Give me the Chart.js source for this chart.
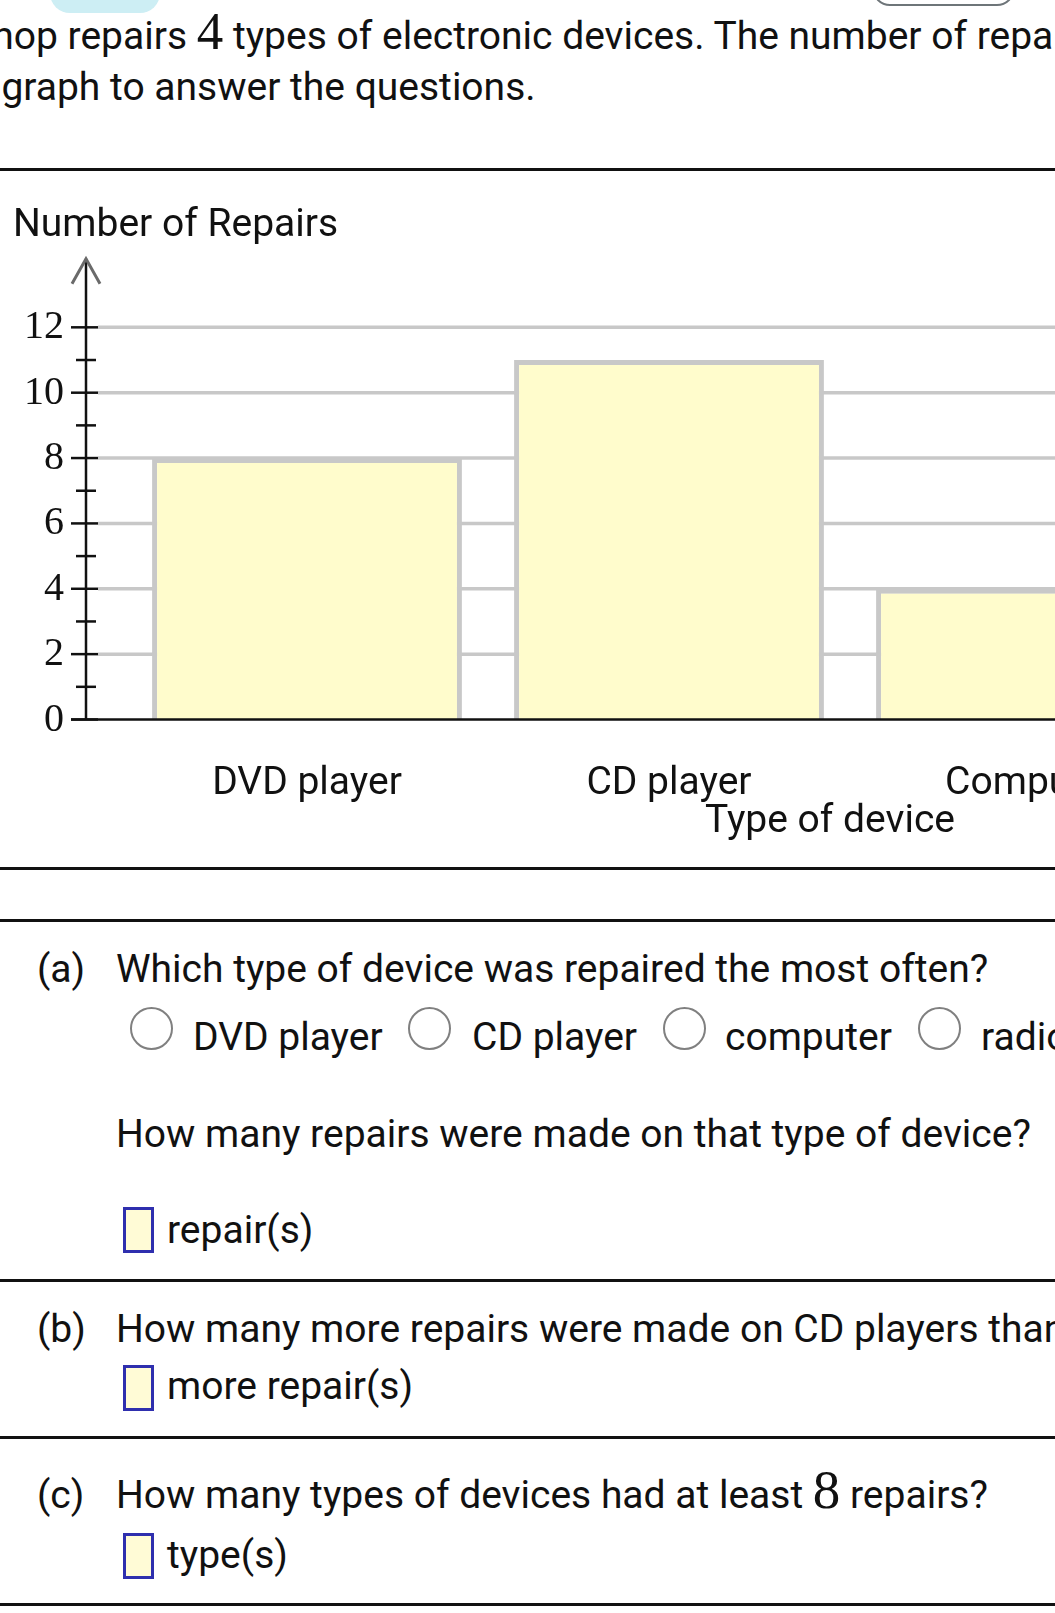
<!DOCTYPE html>
<html>
<head>
<meta charset="utf-8">
<script src="https://cdn.jsdelivr.net/npm/chart.js@4.4.1/dist/chart.umd.min.js"></script>
<style>
    html, body { margin: 0; padding: 0; }
    body {
        width: 1055px;
        height: 1613px;
        overflow: hidden;
        position: relative;
        background: #fff;
        font-family: Roboto, "Noto Sans", sans-serif;
        font-size: 39px;
        color: #111;
    }
    .t { position: absolute; white-space: nowrap; line-height: normal; }
    .m { font-family: "Liberation Serif", serif; }
    .rule { position: absolute; left: 0; width: 1055px; height: 3px; background: #111; }
    .radio {
        position: absolute; width: 39px; height: 39px; border-radius: 50%;
        border: 2.5px solid #808080; background: #fff;
    }
    .box {
        position: absolute; width: 25px; height: 40px;
        border: 3px solid #2f2fae; background: #fffbd6;
    }
    #chartWrap { position: absolute; left: 0; top: 180px; width: 1600px; height: 680px; }
</style>
</head>
<body>
<div style="position:absolute;left:50px;top:-20px;width:110px;height:33px;border-radius:0 0 20px 20px;background:#cdeef4;"></div>
<div style="position:absolute;left:872px;top:-30px;width:139px;height:32px;border-radius:18px;border:2px solid #6e7579;"></div>

<div class="t" id="head1"><span>A repair s</span>hop <span id="head1a">repairs</span> <span class="m" style="font-size:53px">4</span> types of electronic devices. The number of repairs for each type is shown</div>
<div class="t" id="head2"><span>Use the bar </span><span id="head2a">graph</span> to answer the questions.</div>

<div class="rule" style="top:168px"></div>
<div id="chartWrap"><canvas id="repairChart" width="1600" height="680"></canvas></div>
<div class="rule" style="top:867px"></div>
<div class="rule" style="top:919px"></div>

<div class="t" data-x="37" data-b="982">(a)</div>
<div class="t" data-x="116" data-b="982">Which type of device was repaired the most often?</div>
<div class="radio" style="left:130px;top:1007px"></div>
<div class="t" data-x="193" data-b="1050">DVD player</div>
<div class="radio" style="left:408px;top:1007px"></div>
<div class="t" data-x="472" data-b="1050">CD player</div>
<div class="radio" style="left:663px;top:1007px"></div>
<div class="t" data-x="725" data-b="1050">computer</div>
<div class="radio" style="left:918px;top:1007px"></div>
<div class="t" data-x="981" data-b="1050">radio</div>
<div class="t" data-x="116" data-b="1147">How many repairs were made on that type of device?</div>
<div class="box" style="left:123px;top:1207px"></div>
<div class="t" data-x="167" data-b="1243">repair(s)</div>
<div class="rule" style="top:1279px"></div>

<div class="t" data-x="37" data-b="1342">(b)</div>
<div class="t" data-x="116" data-b="1342">How many more repairs were made on CD players than DVD players?</div>
<div class="box" style="left:123px;top:1365px"></div>
<div class="t" data-x="167" data-b="1399">more repair(s)</div>
<div class="rule" style="top:1436px"></div>

<div class="t" data-x="37" data-b="1508">(c)</div>
<div class="t" data-x="116" data-b="1508">How many types of devices had at least <span class="m" style="font-size:55px">8</span> repairs?</div>
<div class="box" style="left:123px;top:1533px"></div>
<div class="t" data-x="167" data-b="1568">type(s)</div>
<div class="rule" style="top:1603px"></div>

<script>
const categories = ['DVD player', 'CD player', 'Computer', 'Radio'];
// Radio lies past the right edge of the picture; its value is a guess
const repairs = [8, 11, 4, 6];
const yLabelTicks = [0, 2, 4, 6, 8, 10, 12];
const yMinorTicks = [1, 3, 5, 7, 9, 11];

// put a text block so that its baseline lands on a given y
function baselineOffset(el) {
    const probe = document.createElement('span');
    probe.style.cssText = 'display:inline-block;width:0;height:0;vertical-align:baseline';
    el.appendChild(probe);
    const off = probe.offsetTop;
    el.removeChild(probe);
    return off;
}

function placeText(el, x, base) {
    el.style.left = x + 'px';
    el.style.top = '0px';
    el.style.top = (base - baselineOffset(el)) + 'px';
}

function placeHeader(id, anchorId, anchorX, base) {
    const el = document.getElementById(id);
    el.style.left = '0px';
    const shift = document.getElementById(anchorId).offsetLeft;
    placeText(el, anchorX - shift, base);
}

document.fonts.ready.then(() => {
    document.querySelectorAll('.t[data-x]').forEach((el) => {
        placeText(el, +el.dataset.x, +el.dataset.b);
    });
    placeHeader('head1', 'head1a', 68, 49);
    placeHeader('head2', 'head2a', 1, 100);
});

const bookAxes = {
    id: 'bookAxes',
    beforeDatasetsDraw(chart) {
        const { ctx, chartArea, scales: { y } } = chart;
        const axisX = chartArea.left - 40;
        ctx.save();
        ctx.strokeStyle = '#c8c8c8';
        ctx.lineWidth = 3.5;
        yLabelTicks.forEach((v) => {
            if (v === 0) return;
            const py = y.getPixelForValue(v);
            ctx.beginPath();
            ctx.moveTo(axisX + 12, py);
            ctx.lineTo(chart.width, py);
            ctx.stroke();
        });
        ctx.restore();
    },
    afterDatasetsDraw(chart) {
        const { ctx, chartArea, scales: { x, y } } = chart;
        const axisX = chartArea.left - 40;
        const zeroY = y.getPixelForValue(0);
        ctx.save();

        // baseline
        ctx.strokeStyle = '#111';
        ctx.lineWidth = 2.5;
        ctx.beginPath();
        ctx.moveTo(axisX - 15, zeroY);
        ctx.lineTo(chart.width, zeroY);
        ctx.stroke();

        // vertical axis
        ctx.beginPath();
        ctx.moveTo(axisX, zeroY);
        ctx.lineTo(axisX, chartArea.top);
        ctx.stroke();

        // tick marks
        yLabelTicks.forEach((v) => {
            const py = y.getPixelForValue(v);
            ctx.beginPath();
            ctx.moveTo(axisX - 15, py);
            ctx.lineTo(axisX + 12, py);
            ctx.stroke();
        });
        yMinorTicks.forEach((v) => {
            const py = y.getPixelForValue(v);
            ctx.beginPath();
            ctx.moveTo(axisX - 10, py);
            ctx.lineTo(axisX + 10, py);
            ctx.stroke();
        });

        // arrow head
        ctx.strokeStyle = '#6a6a6a';
        ctx.lineWidth = 3;
        ctx.beginPath();
        ctx.moveTo(axisX - 14, chartArea.top + 25);
        ctx.lineTo(axisX, chartArea.top);
        ctx.lineTo(axisX + 14, chartArea.top + 25);
        ctx.stroke();

        // tick labels
        ctx.fillStyle = '#111';
        ctx.font = '40px "Liberation Serif"';
        ctx.textAlign = 'right';
        ctx.textBaseline = 'alphabetic';
        yLabelTicks.forEach((v) => {
            ctx.fillText(String(v), axisX - 22, y.getPixelForValue(v) + 11);
        });

        // category labels and titles
        ctx.font = '39px Roboto';
        ctx.textAlign = 'center';
        categories.forEach((c, i) => {
            ctx.fillText(c, x.getPixelForValue(i), chartArea.bottom + 74.5);
        });
        ctx.fillText('Type of device', (axisX + chartArea.right) / 2, chartArea.bottom + 112.5);
        ctx.textAlign = 'left';
        ctx.fillText('Number of Repairs', 13, 56);
        ctx.restore();
    },
};

document.fonts.ready.then(() => {
    new Chart(document.getElementById('repairChart'), {
        type: 'bar',
        data: {
            labels: categories,
            datasets: [
                {
                    data: repairs,
                    backgroundColor: '#fffccc',
                    borderColor: '#c8c8c8',
                    borderWidth: 5,
                    borderSkipped: 'start',
                    barPercentage: 0.856,
                    categoryPercentage: 1,
                },
            ],
        },
        options: {
            responsive: false,
            animation: false,
            devicePixelRatio: 1,
            layout: {
                padding: { left: 126, right: 26, top: 78.7, bottom: 140.5 },
            },
            scales: {
                x: { display: false },
                y: { display: false, min: 0, max: 14.1 },
            },
            plugins: {
                legend: { display: false },
                tooltip: { enabled: false },
            },
        },
        plugins: [bookAxes],
    });
});
</script>
</body>
</html>
